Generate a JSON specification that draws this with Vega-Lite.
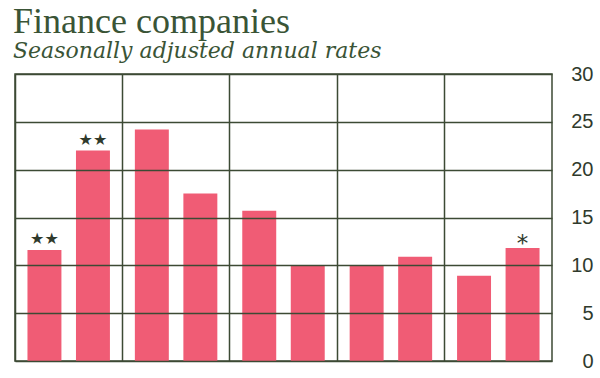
{
  "$schema": "https://vega.github.io/schema/vega-lite/v6.json",
  "autosize": "none",
  "width": 537,
  "height": 287,
  "padding": {"left": 15, "top": 74, "right": 48, "bottom": 17},
  "background": "white",
  "title": {
    "text": "Finance companies",
    "subtitle": "Seasonally adjusted annual rates",
    "anchor": "start",
    "frame": "group",
    "dx": -2,
    "offset": 1,
    "font": "Liberation Serif",
    "fontSize": 36,
    "fontWeight": "normal",
    "color": "#3a5436",
    "subtitleFont": "DejaVu Serif",
    "subtitleFontSize": 22,
    "subtitleFontStyle": "italic",
    "subtitleColor": "#3a5436",
    "subtitlePadding": 0
  },
  "config": {
    "view": {"stroke": "#3c4a34", "strokeWidth": 1.5}
  },
  "data": {
    "values": [
      {"group": "1", "pos": "a", "value": 11.6, "note": "★★"},
      {"group": "1", "pos": "b", "value": 22.0, "note": "★★"},
      {"group": "2", "pos": "a", "value": 24.2, "note": ""},
      {"group": "2", "pos": "b", "value": 17.5, "note": ""},
      {"group": "3", "pos": "a", "value": 15.7, "note": ""},
      {"group": "3", "pos": "b", "value": 10.0, "note": ""},
      {"group": "4", "pos": "a", "value": 10.0, "note": ""},
      {"group": "4", "pos": "b", "value": 10.9, "note": ""},
      {"group": "5", "pos": "a", "value": 8.9, "note": ""},
      {"group": "5", "pos": "b", "value": 11.8, "note": "*"}
    ]
  },
  "encoding": {
    "x": {
      "field": "group",
      "type": "nominal",
      "scale": {"paddingInner": 0, "paddingOuter": 0},
      "axis": {
        "title": null,
        "labels": false,
        "ticks": false,
        "domain": false,
        "grid": true,
        "bandPosition": 0,
        "gridColor": "#3c4a34",
        "gridWidth": 1.5,
        "gridOpacity": 1,
        "zindex": 1
      }
    },
    "xOffset": {
      "field": "pos",
      "type": "nominal",
      "scale": {"paddingInner": 0.3, "paddingOuter": 0.257}
    },
    "y": {
      "field": "value",
      "type": "quantitative",
      "scale": {"domain": [0, 30], "nice": false},
      "axis": {
        "orient": "right",
        "title": null,
        "values": [0, 5, 10, 15, 20, 25, 30],
        "grid": true,
        "gridColor": "#3c4a34",
        "gridWidth": 1.5,
        "gridOpacity": 1,
        "zindex": 1,
        "domain": false,
        "ticks": false,
        "tickSize": 0,
        "labelAlign": "right",
        "labelPadding": 41,
        "labelFont": "Liberation Sans",
        "labelFontSize": 20,
        "labelColor": "#2f3a2c"
      }
    }
  },
  "layer": [
    {"mark": {"type": "bar", "color": "#f05c75"}},
    {
      "transform": [{"filter": "datum.note == '★★'"}],
      "mark": {"type": "text", "dy": -11, "font": "DejaVu Sans", "fontSize": 16, "color": "#2f3a2c"},
      "encoding": {"text": {"field": "note"}}
    },
    {
      "transform": [{"filter": "datum.note == '*'"}],
      "mark": {"type": "text", "dy": -4, "font": "DejaVu Sans", "fontSize": 23, "color": "#2f3a2c"},
      "encoding": {"text": {"field": "note"}}
    }
  ]
}
